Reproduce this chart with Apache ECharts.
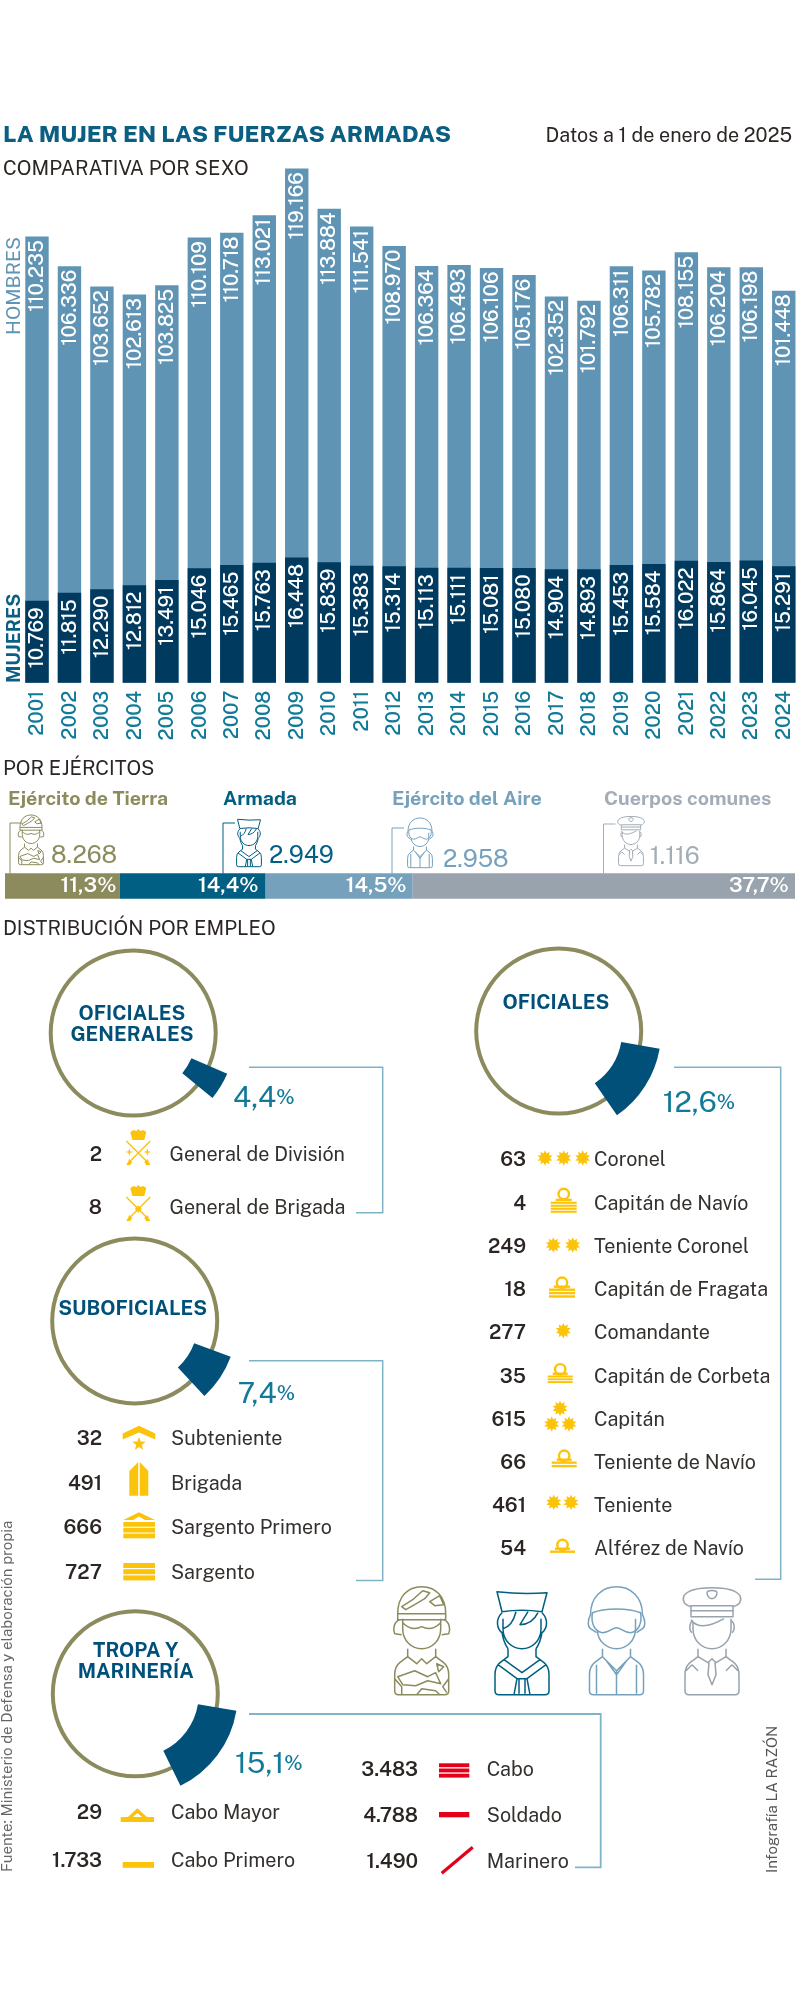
<!DOCTYPE html>
<html>
<head>
<meta charset="utf-8">
<title>La mujer en las Fuerzas Armadas</title>
<script src="https://cdn.jsdelivr.net/npm/echarts@6/dist/echarts.min.js"></script>
<style>
  html, body { margin: 0; padding: 0; background: #fff; }
  #chart { width: 800px; height: 1998px; }
</style>
</head>
<body>
<div id="chart"></div>
<script>
// datos
const anios = ['2001','2002','2003','2004','2005','2006','2007','2008','2009','2010','2011','2012','2013','2014','2015','2016','2017','2018','2019','2020','2021','2022','2023','2024'];
const mujeres = [10769,11815,12290,12812,13491,15046,15465,15763,16448,15839,15383,15314,15113,15111,15081,15080,14904,14893,15453,15584,16022,15864,16045,15291];
const hombres = [110235,106336,103652,102613,103825,110109,110718,113021,119166,113884,111541,108970,106364,106493,106106,105176,102352,101792,106311,105782,108155,106204,106198,101448];
// en el original la barra de 2024 está más alta de lo que dice su cifra
const alturaHombres2024 = 103100;

const ejercitos = ['Ejército de Tierra','Armada','Ejército del Aire','Cuerpos comunes'];
const ejercitosTotal = [8268,2949,2958,1116];
const ejercitosPct = [11.3,14.4,14.5,37.7];

const grupos = ['OFICIALES\nGENERALES','OFICIALES','SUBOFICIALES','TROPA Y\nMARINERÍA'];
const gruposPct = [4.4,12.6,7.4,15.1];

const generalesEmpleo = ['General de División','General de Brigada'];
const generalesNum = [2,8];
const oficialesEmpleo = ['Coronel','Capitán de Navío','Teniente Coronel','Capitán de Fragata','Comandante','Capitán de Corbeta','Capitán','Teniente de Navío','Teniente','Alférez de Navío'];
const oficialesNum = [63,4,249,18,277,35,615,66,461,54];
const subofEmpleo = ['Subteniente','Brigada','Sargento Primero','Sargento'];
const subofNum = [32,491,666,727];
const tropaEmpleo = ['Cabo Mayor','Cabo Primero'];
const tropaNum = [29,1733];
const tropa2Empleo = ['Cabo','Soldado','Marinero'];
const tropa2Num = [3483,4788,1490];

// colores
const C = {
  hombres: '#5f94b5', mujeres: '#003a5f', anio: '#127a99', titulo: '#0a5f82', texto: '#2b2523',
  olive: '#8c8b5e', teal: '#005f83', aire: '#76a1bd', gris: '#98a3ae', linea: '#7fb3c8',
  wedge: '#00507a', pct: '#127a99', oro: '#fcc30b', rojo: '#e2001a'
};
const SANS = '"Public Sans", Inter, "Liberation Sans", sans-serif';

const fmt = v => String(v).replace(/\B(?=(\d{3})+$)/g, '.');
const g = []; // elementos graphic

// texto con línea base en y
function T(text, x, y, size, fill, opt) {
  opt = opt || {};
  g.push({
    type: 'text', x: x, y: opt.rot ? y : y - size * 0.28, rotation: opt.rot ? Math.PI / 2 : 0, silent: true,
    style: {
      text: text, x: 0, y: 0, fill: fill, textAlign: opt.align || 'left', textVerticalAlign: 'middle',
      font: (opt.weight || 400) + ' ' + size + 'px ' + SANS
    }
  });
}

function line(points, color, w) {
  g.push({ type: 'polyline', silent: true, shape: { points: points }, style: { stroke: color, lineWidth: w, fill: null } });
}
function rect(x, y, w, h, color) {
  g.push({ type: 'rect', silent: true, shape: { x: x, y: y, width: w, height: h }, style: { fill: color } });
}
function poly(points, color) {
  g.push({ type: 'polygon', silent: true, shape: { points: points }, style: { fill: color } });
}
// estrella de n puntas
function star(cx, cy, r, n, inner) {
  const pts = [];
  for (let i = 0; i < n * 2; i++) {
    const a = -Math.PI / 2 + i * Math.PI / n;
    const rr = i % 2 ? r * (inner || 0.5) : r;
    pts.push([cx + rr * Math.cos(a), cy + rr * Math.sin(a)]);
  }
  poly(pts, C.oro);
}
// aro + franjas (insignias de la Armada)
function galon(x, w, cy, yStripe, n, stripe, gap) {
  g.push({ type: 'circle', silent: true, shape: { cx: x + w / 2, cy: cy, r: 5.2 }, style: { fill: null, stroke: C.oro, lineWidth: 2.4 } });
  rect(x + 5, yStripe - 3, w - 10, 2.4, C.oro);
  for (let i = 0; i < n; i++) rect(x, yStripe + i * (stripe + gap), w, stripe, C.oro);
}
function bands(x, w, y, n, stripe, gap, color) {
  for (let i = 0; i < n; i++) rect(x, y + i * (stripe + gap), w, stripe, color);
}
// corona y sables cruzados de los generales
function general(cx, cy, twoStars) {
  poly([[cx - 8, cy - 4], [cx - 5, cy - 6], [cx - 2, cy - 5], [cx, cy - 7], [cx + 2, cy - 5], [cx + 5, cy - 6], [cx + 8, cy - 4], [cx + 6, cy + 4], [cx - 6, cy + 4]], C.oro);
  const cr = cy + 17;
  line([[cx - 12, cr - 12], [cx + 9, cr + 9]], C.oro, 1.4);
  line([[cx + 12, cr - 12], [cx - 9, cr + 9]], C.oro, 1.4);
  poly([[cx - 12, cr + 12], [cx - 9, cr + 6], [cx - 6, cr + 9], [cx - 8, cr + 12]], C.oro);
  poly([[cx + 12, cr + 12], [cx + 9, cr + 6], [cx + 6, cr + 9], [cx + 8, cr + 12]], C.oro);
  if (twoStars) { star(cx - 9, cr - 1, 4, 4, 0.3); star(cx + 9, cr - 1, 4, 4, 0.3); }
  else star(cx, cr, 4, 8, 0.6);
}

// figuras de línea, coordenadas locales del icono grande (origen arriba al centro)
const CUERPO = 'M-14 62V70L-22 76Q-27 80-27 88V104Q-27 108-23 108H23Q27 108 27 104V88Q27 80 22 76L14 70V62';
const CARA = 'M-19 32V42C-19 54-10 62 0 62C10 62 19 54 19 42V32';
const ICONOS = {
  soldado: CUERPO + CARA +
    'M-24 27C-24 10-14 0 0 0C14 0 24 10 24 27ZM-24 27V33H24V27' +
    'M-22 33C-28 35-29 43-27 47L-20 48M22 33C28 35 29 43 27 47L20 48' +
    'M-19 36C-12 43-6 43 0 40C6 43 12 43 19 36' +
    'M-20 20L-9 13L1 4L8 6L3 12L-7 18L-16 23ZM8 15L18 9L22 18L13 19Z' +
    'M-14 70L-5 77L0 72L5 77L14 70M-24 90L-7 84L6 90L14 86L19 97L6 94L-6 99L-19 98Z' +
    'M-5 108L0 102L14 104L18 108M15 77L22 80L17 85ZM-27 92L-20 100V108M27 92L21 100L25 106',
  marinero: CUERPO + CARA +
    'M-25 5Q0 8 25 6L20 25Q0 22-20 25ZM-20 26C-27 33-25 42-20 46C-19 52-17 58-14 62M20 26C27 33 25 42 20 46C19 52 17 58 14 62' +
    'M-6 25C-8 33-12 40-19 42M6 25L-2 38C5 38 12 34 16 26' +
    'M-24 78L-5 92L-8 108M24 78L5 92L8 108M-18 73L0 86L18 73M-5 92H5M-3 92L-3 107M3 92L3 107',
  piloto: CUERPO + CARA.replace('M-19 32V42', 'M-19 44') +
    'M-26 28C-26 10-14 0 0 0C14 0 26 10 26 28' +
    'M-24 26C-12 21 12 21 24 26C26 36 22 45 14 46C8 46 4 41 0 41C-4 41-8 46-14 46C-22 45-26 36-24 26Z' +
    'M-26 28C-29 34-29 40-26 42L-20 46M26 28C29 34 29 40 26 42L20 46' +
    'M-14 70L0 84L14 70M-10 74L0 88L10 74M0 84V108M-20 78V107M20 78V107',
  oficial: CUERPO + CARA.replace('M-19 32V42', 'M-19 36V42') +
    'M-21 20C-28 18-30 14-28 9C-24 3-12 1 0 1C12 1 24 3 28 9C30 14 28 18 21 20M-21 19H21V30H-21ZM-21 24H21' +
    'M-5 6C-5 3 5 3 5 6C5 9 3 12 0 12C-3 12-5 9-5 6Z' +
    'M-21 33C-14 43-2 40 12 32M-19 34C-23 36-23 44-20 46M19 34C23 36 23 44 20 46' +
    'M-14 70L-4 76L0 72L4 76L14 70M-3 76L-4 88L0 98L4 88L3 76M-20 78L-26 84M-20 78L-14 84M20 78L26 84M20 78L14 84'
};
// el componente graphic no acepta pathData directo: se registra cada figura como forma
Object.keys(ICONOS).forEach(k => {
  echarts.graphic.registerShape('icono_' + k, echarts.graphic.extendPath(ICONOS[k], {}));
});
function icono(nombre, x, y, scale, color, w) {
  g.push({
    type: 'group', x: x, y: y, scaleX: scale, scaleY: scale, silent: true,
    children: [{ type: 'icono_' + nombre, style: { fill: null, stroke: color, lineWidth: w / scale, lineJoin: 'round' } }]
  });
}

// cabecera
T('LA MUJER EN LAS FUERZAS ARMADAS', 3, 141.7, 23.2, C.titulo, { weight: 800 });
T('Datos a 1 de enero de 2025', 792, 141.7, 19.7, C.texto, { align: 'right' });
T('COMPARATIVA POR SEXO', 3, 174.7, 20, C.texto);
T('HOMBRES', 14, 335, 19.5, C.hombres, { rot: true });
T('MUJERES', 14, 683, 19, C.titulo, { rot: true, weight: 700 });

// por ejércitos
T('POR EJÉRCITOS', 3, 774, 20, C.texto);
const armyColor = [C.olive, C.teal, C.aire, C.gris];
const armyNameX = [8, 223, 392, 604];
const armyNumX = [51, 269, 443, 650];
const armyNumY = [862.7, 862.7, 866.7, 863];
const armyNameColor = [C.olive, C.teal, C.aire, '#a3adb8'];
const armyIcon = ['soldado', 'marinero', 'piloto', 'oficial'];
const armyIconX = [31, 249, 420, 631];
const armyIconY = [815, 817, 818, 816];
const armyLineX = [10, 223, 392, 603.5];
const armyLineY = [823, 823, 828, 824];
const armyLabelDist = [3, 7, 6, 6];
ejercitos.forEach((n, i) => {
  T(n, armyNameX[i], 804, 19.6, armyNameColor[i], { weight: 700 });
  T(fmt(ejercitosTotal[i]), armyNumX[i], armyNumY[i], 24, armyNameColor[i]);
  icono(armyIcon[i], armyIconX[i], armyIconY[i], 0.46, armyNameColor[i], 1);
  line([[armyLineX[i] + 12, armyLineY[i]], [armyLineX[i], armyLineY[i]], [armyLineX[i], 873.5]], armyNameColor[i], 1);
});

// distribución por empleo
T('DISTRIBUCIÓN POR EMPLEO', 3, 934, 20, C.texto);

// títulos de los aros
const grupoTitle = [
  [[132, 1019.3], [132, 1040.7]],
  [[556, 1008.3]],
  [[132.7, 1314.3]],
  [[135.7, 1656.7], [135.7, 1677.5]]
];
grupos.forEach((n, i) => {
  n.split('\n').forEach((t, j) => T(t, grupoTitle[i][j][0], grupoTitle[i][j][1], 20, C.wedge, { weight: 700, align: 'center' }));
});

// porcentajes de los aros
const pctPos = [[233, 1107], [662.7, 1112], [237.7, 1403], [235, 1773]];
gruposPct.forEach((p, i) => {
  g.push({
    type: 'text', x: pctPos[i][0], y: pctPos[i][1] - 24, silent: true,
    style: {
      text: '{n|' + String(p).replace('.', ',') + '}{p|%}', x: 0, y: 0, fill: C.pct, textVerticalAlign: 'top',
      rich: {
        n: { fontFamily: 'Public Sans', fontSize: 29, fontWeight: 400, fill: C.pct, height: 30 },
        p: { fontFamily: 'Public Sans', fontSize: 20, fontWeight: 600, fill: C.pct, height: 30 }
      }
    }
  });
});

// líneas guía
line([[249, 1067.3], [382.7, 1067.3], [382.7, 1212.7], [356, 1212.7]], C.linea, 1.5);
line([[674, 1067.3], [780.7, 1067.3], [780.7, 1579.3], [755, 1579.3]], C.linea, 1.5);
line([[249, 1360.7], [382.7, 1360.7], [382.7, 1580.5], [356, 1580.5]], C.linea, 1.5);
line([[249, 1714], [600.7, 1714], [600.7, 1867.3], [575, 1867.3]], C.linea, 1.8);

// filas de empleos
function filas(nombres, nums, baselines, numX, labelX) {
  nombres.forEach((n, i) => {
    T(fmt(nums[i]), numX, baselines[i], 20, C.texto, { weight: 600, align: 'right' });
    T(n, labelX, baselines[i], 19.7, '#33302e');
  });
}
filas(generalesEmpleo, generalesNum, [1160.5, 1213], 102, 169.5);
filas(oficialesEmpleo, oficialesNum, [1165, 1209.5, 1252.5, 1295.5, 1338.5, 1382, 1425, 1468.5, 1511, 1554], 526, 594);
filas(subofEmpleo, subofNum, [1444, 1489, 1533.5, 1578], 102, 171);
filas(tropaEmpleo, tropaNum, [1818.5, 1866], 102, 171);
filas(tropa2Empleo, tropa2Num, [1775, 1821, 1867.5], 418, 486.7);

// insignias
general(138.3, 1136, true);
general(138.3, 1192, false);
[545, 563.7, 582.7].forEach(x => star(x, 1158, 7.8, 10, 0.62));
galon(550.7, 26, 1194, 1201.7, 4, 2.1, 0.9);
[553.3, 572.7].forEach(x => star(x, 1245, 7.8, 10, 0.62));
galon(549, 26, 1282.7, 1288.5, 3, 2.4, 1);
star(563.3, 1330.7, 7.8, 10, 0.62);
galon(547.7, 25, 1369.3, 1375.5, 3, 1.9, 0.9);
star(560, 1408.3, 7.8, 10, 0.62);
star(551.7, 1424, 7.8, 10, 0.62);
star(569, 1424, 7.8, 10, 0.62);
galon(551.7, 25, 1455.7, 1461.5, 2, 2.3, 1.2);
[553.7, 571].forEach(x => star(x, 1502.3, 7.8, 10, 0.62));
galon(550, 25, 1545, 1550.5, 1, 2.4, 0);
// suboficiales
poly([[122.7, 1433.5], [139, 1425.8], [155.3, 1433.5], [155.3, 1439.6], [139, 1432.5], [122.7, 1439.6]], C.oro);
star(139, 1444, 7, 5, 0.42);
poly([[129.3, 1495.7], [129.3, 1471], [138.2, 1462], [138.2, 1495.7]], C.oro);
poly([[148.3, 1495.7], [148.3, 1471], [139.8, 1462], [139.8, 1495.7]], C.oro);
poly([[123.3, 1520], [139, 1512.3], [155, 1520], [145, 1520], [139, 1516.5], [133, 1520]], C.oro);
bands(123.3, 31.7, 1522, 3, 4.7, 1.1, C.oro);
bands(123.3, 31.7, 1563, 3, 5, 1.2, C.oro);
// tropa
poly([[128, 1817], [137.3, 1808.3], [147, 1817], [142, 1817], [137.3, 1813], [133, 1817]], C.oro);
rect(120.7, 1817, 33.3, 5, C.oro);
rect(122.7, 1862, 31.3, 5.8, C.oro);
bands(439, 30.3, 1763.3, 3, 3.9, 1.3, C.rojo);
rect(439, 1812, 30.3, 5.3, C.rojo);
line([[441.7, 1873.3], [472.7, 1847.3]], C.rojo, 3.2);

// figuras grandes
icono('soldado', 421.7, 1586.7, 1, C.olive, 1.5);
icono('marinero', 522, 1586.7, 1, C.teal, 1.5);
icono('piloto', 616.5, 1586.7, 1, C.aire, 1.5);
icono('oficial', 712, 1586.7, 1, C.gris, 1.5);

// firmas verticales
T('Fuente: Ministerio de Defensa y elaboración propia', 7, 1872, 15, '#666', { rot: true });
T('Infografía LA RAZÓN', 772.7, 1873, 15, '#555', { rot: true });

// aros: anillo fino y cuña proporcional
const aros = [
  { c: [133.2, 1033], start: 23.5 },
  { c: [558.7, 1031], start: 10 },
  { c: [134.7, 1320.9], start: 20.5 },
  { c: [135.3, 1693.8], start: 9.5 }
];
const pieSeries = [];
gruposPct.forEach((p, i) => {
  pieSeries.push({
    type: 'pie', silent: true, center: aros[i].c, radius: [80.5, 84.5], label: { show: false },
    labelLine: { show: false }, itemStyle: { color: C.olive }, data: [100]
  });
  pieSeries.push({
    type: 'pie', silent: true, center: aros[i].c, radius: [63.5, 102.5], startAngle: -aros[i].start, clockwise: true,
    label: { show: false }, labelLine: { show: false },
    data: [{ value: p, itemStyle: { color: C.wedge } }, { value: 100 - p, itemStyle: { color: 'rgba(0,0,0,0)' } }]
  });
});

const chart = echarts.init(document.getElementById('chart'));
chart.setOption({
  animation: false,
  backgroundColor: '#ffffff',
  grid: [
    { left: 20.76, top: 150, width: 779.5, height: 532.7 },
    { left: 5, top: 873.3, width: 790, height: 25.4 }
  ],
  xAxis: [
    {
      type: 'category', gridIndex: 0, data: anios,
      axisLine: { show: false }, axisTick: { show: false },
      axisLabel: { interval: 0, rotate: 90, margin: 8, padding: [4, 0, 0, 0], color: C.anio, fontSize: 20, fontWeight: 500, fontFamily: SANS }
    },
    { type: 'value', gridIndex: 1, min: 0, max: 77.9, show: false }
  ],
  yAxis: [
    { type: 'value', gridIndex: 0, min: 0, max: 70000, show: false },
    // hombres: el eje arranca cortado, solo se solapa con mujeres
    { type: 'value', gridIndex: 0, min: 51600, max: 121600, show: false },
    { type: 'category', gridIndex: 1, data: ['Ejércitos'], show: false }
  ],
  series: [
    {
      name: 'Hombres', type: 'bar', xAxisIndex: 0, yAxisIndex: 1, barWidth: 23.4, barGap: '-100%',
      itemStyle: { color: C.hombres },
      label: {
        show: true, position: 'insideTop', distance: 7, rotate: 90, align: 'right', verticalAlign: 'middle', offset: [3.5, 0],
        color: '#fff', fontSize: 20, fontWeight: 500, fontFamily: SANS,
        formatter: p => fmt(hombres[p.dataIndex])
      },
      data: hombres.map((v, i) => (i === 23 ? alturaHombres2024 : v))
    },
    {
      name: 'Mujeres', type: 'bar', xAxisIndex: 0, yAxisIndex: 0, barWidth: 23.4, barGap: '-100%',
      itemStyle: { color: C.mujeres },
      label: {
        show: true, position: 'insideTop', distance: 10, rotate: 90, align: 'right', verticalAlign: 'middle', offset: [3.5, 0],
        color: '#fff', fontSize: 20, fontWeight: 500, fontFamily: SANS,
        formatter: p => fmt(p.value)
      },
      data: mujeres
    },
    ...ejercitos.map((n, i) => ({
      name: n, type: 'bar', stack: 'pct', xAxisIndex: 1, yAxisIndex: 2, barWidth: 25.4,
      itemStyle: { color: armyColor[i] },
      label: {
        show: true, position: 'insideRight', distance: armyLabelDist[i], color: '#fff', fontSize: 21, fontWeight: 600, fontFamily: SANS,
        formatter: p => String(p.value).replace('.', ',') + '%'
      },
      data: [ejercitosPct[i]]
    })),
    ...pieSeries
  ],
  graphic: { elements: g }
});
</script>
</body>
</html>
